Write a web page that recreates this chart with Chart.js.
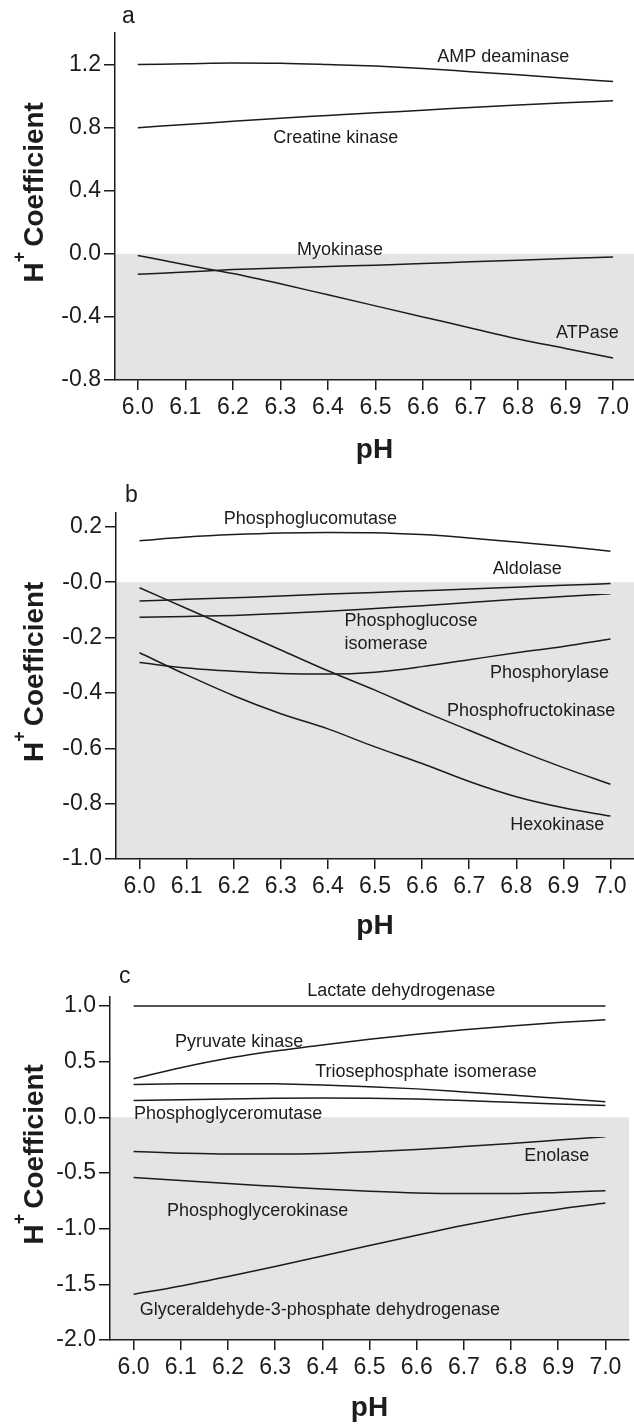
<!DOCTYPE html>
<html>
<head>
<meta charset="utf-8">
<script src="https://cdn.jsdelivr.net/npm/chart.js@4.4.1/dist/chart.umd.min.js"></script>
<style>
  html, body { margin: 0; padding: 0; background: #fff; }
  body { width: 634px; height: 1427px; position: relative; overflow: hidden; }
  canvas { position: absolute; left: 0; display: block; }
</style>
</head>
<body>
<canvas id="chartA" width="634" height="470" style="top:0"></canvas>
<canvas id="chartB" width="634" height="480" style="top:470px"></canvas>
<canvas id="chartC" width="634" height="477" style="top:950px"></canvas>
<script>
// pH grid shared by all three panels
const PH = [6.0, 6.1, 6.2, 6.3, 6.4, 6.5, 6.6, 6.7, 6.8, 6.9, 7.0];

// panel a
const AMP_DEAMINASE = [1.20, 1.205, 1.21, 1.208, 1.20, 1.19, 1.175, 1.155, 1.135, 1.113, 1.093];
const CREATINE_KINASE = [0.80, 0.82, 0.84, 0.86, 0.877, 0.894, 0.91, 0.928, 0.944, 0.958, 0.97];
const MYOKINASE = [-0.13, -0.115, -0.10, -0.09, -0.08, -0.072, -0.062, -0.05, -0.04, -0.03, -0.02];
const ATPASE = [-0.01, -0.07, -0.125, -0.19, -0.26, -0.33, -0.40, -0.47, -0.54, -0.60, -0.66];
const Y_TICKS_A = [-0.8, -0.4, 0, 0.4, 0.8, 1.2];
const Y_LABELS_A = ['-0.8', '-0.4', '0.0', '0.4', '0.8', '1.2'];

// panel b
const PHOSPHOGLUCOMUTASE = [0.15, 0.163, 0.172, 0.178, 0.18, 0.179, 0.172, 0.16, 0.145, 0.13, 0.112];
const ALDOLASE = [-0.068, -0.062, -0.056, -0.05, -0.043, -0.037, -0.031, -0.025, -0.018, -0.011, -0.005];
const PHOSPHOGLUCOSE_ISOMERASE = [-0.127, -0.124, -0.12, -0.113, -0.105, -0.095, -0.085, -0.073, -0.062, -0.052, -0.042];
const PHOSPHORYLASE = [-0.29, -0.31, -0.322, -0.33, -0.332, -0.325, -0.305, -0.28, -0.255, -0.232, -0.205];
const PHOSPHOFRUCTOKINASE = [-0.02, -0.095, -0.17, -0.245, -0.32, -0.39, -0.465, -0.535, -0.605, -0.67, -0.73];
const HEXOKINASE = [-0.255, -0.335, -0.41, -0.475, -0.53, -0.595, -0.655, -0.72, -0.775, -0.815, -0.845];
const Y_TICKS_B = [-1.0, -0.8, -0.6, -0.4, -0.2, 0, 0.2];
const Y_LABELS_B = ['-1.0', '-0.8', '-0.6', '-0.4', '-0.2', '-0.0', '0.2'];

// panel c
const LACTATE_DH = [1.0, 1.0, 1.0, 1.0, 1.0, 1.0, 1.0, 1.0, 1.0, 1.0, 1.0];
const PYRUVATE_KINASE = [0.345, 0.445, 0.53, 0.595, 0.65, 0.70, 0.745, 0.785, 0.82, 0.85, 0.875];
const TRIOSEPHOSPHATE_ISOMERASE = [0.295, 0.30, 0.302, 0.30, 0.29, 0.275, 0.255, 0.228, 0.20, 0.17, 0.14];
const PHOSPHOGLYCEROMUTASE = [0.15, 0.158, 0.165, 0.17, 0.172, 0.17, 0.163, 0.15, 0.135, 0.12, 0.105];
const ENOLASE = [-0.308, -0.322, -0.33, -0.33, -0.325, -0.31, -0.29, -0.262, -0.235, -0.205, -0.175];
const PHOSPHOGLYCEROKINASE = [-0.54, -0.567, -0.595, -0.62, -0.645, -0.665, -0.68, -0.685, -0.685, -0.675, -0.66];
const GAPDH = [-1.59, -1.515, -1.43, -1.34, -1.245, -1.152, -1.06, -0.97, -0.89, -0.825, -0.77];
const Y_TICKS_C = [-2.0, -1.5, -1.0, -0.5, 0, 0.5, 1.0];
const Y_LABELS_C = ['-2.0', '-1.5', '-1.0', '-0.5', '0.0', '0.5', '1.0'];

const FONT = "'Liberation Sans', Arial, sans-serif";
const INK = '#1c1c1c';
const SHADE = '#e3e4e6';

Chart.defaults.font.family = FONT;
Chart.defaults.color = INK;

// grey band below zero, panel letter, rotated y title and the curve names
const panelDecor = {
  id: 'panelDecor',
  beforeDraw(chart) {
    const { ctx, chartArea: a, scales: { y } } = chart;
    const zero = y.getPixelForValue(0);
    ctx.save();
    ctx.fillStyle = SHADE;
    ctx.fillRect(a.left, zero, a.right - a.left, a.bottom - zero);
    ctx.restore();
  },
  afterDraw(chart, args, opts) {
    const { ctx, chartArea: a, scales: { x, y } } = chart;
    ctx.save();
    ctx.fillStyle = INK;
    ctx.textAlign = 'left';

    ctx.textBaseline = 'alphabetic';
    ctx.font = `23px ${FONT}`;
    ctx.fillText(opts.letter, opts.letterX, opts.letterY);

    // H+ Coefficient, read bottom to top
    ctx.save();
    ctx.translate(43, (a.top + a.bottom) / 2 + 76);
    ctx.rotate(-Math.PI / 2);
    ctx.font = `bold 28px ${FONT}`;
    ctx.fillText('H', 0, 0);
    let off = ctx.measureText('H').width;
    ctx.font = `bold 18px ${FONT}`;
    ctx.fillText('+', off, -18);
    off += ctx.measureText('+').width + 5;
    ctx.font = `bold 28px ${FONT}`;
    ctx.fillText('Coefficient', off, 0);
    ctx.restore();

    ctx.textBaseline = 'middle';
    ctx.font = `18px ${FONT}`;
    opts.labels.forEach((l) => {
      ctx.fillText(l.text, x.getPixelForValue(l.ph), y.getPixelForValue(l.h));
    });
    ctx.restore();
  },
};

function line(data) {
  return {
    data: data.map((v, i) => ({ x: PH[i], y: v })),
    borderColor: INK,
    borderWidth: 1.5,
    pointRadius: 0,
    cubicInterpolationMode: 'monotone',
    fill: false,
  };
}

function panelOptions(p) {
  return {
    responsive: false,
    animation: false,
    events: [],
    layout: { padding: { top: p.top, right: p.right, bottom: 0, left: 0 } },
    plugins: {
      legend: { display: false },
      tooltip: { enabled: false },
      panelDecor: p.decor,
    },
    scales: {
      x: {
        type: 'linear',
        min: p.xMin,
        max: p.xMax,
        afterBuildTicks: (s) => { s.ticks = PH.map((v) => ({ value: v })); },
        afterFit: (s) => { s.height = p.xHeight; s.paddingLeft = 0; s.paddingRight = 0; },
        grid: { drawOnChartArea: false, tickLength: 10, color: INK, lineWidth: 1.5 },
        border: { color: INK, width: 1.5 },
        ticks: {
          autoSkip: false, maxRotation: 0, padding: 4, color: INK,
          font: { size: 23 },
          callback: (v) => v.toFixed(1),
        },
        title: {
          display: true, text: 'pH', color: INK,
          font: { size: 28, weight: 'bold' },
          padding: { top: 0, bottom: p.titlePad },
        },
      },
      y: {
        min: p.yMin,
        max: p.yMax,
        afterBuildTicks: (s) => { s.ticks = p.yTicks.map((v) => ({ value: v })); },
        afterFit: (s) => { s.width = p.yWidth; s.paddingTop = 0; s.paddingBottom = 0; },
        grid: { drawOnChartArea: false, tickLength: 11, color: INK, lineWidth: 1.5 },
        border: { color: INK, width: 1.5 },
        ticks: {
          autoSkip: false, padding: 3, color: INK,
          font: { size: 23 },
          callback: (v, i) => p.yLabels[i],
        },
      },
    },
  };
}

new Chart(document.getElementById('chartA'), {
  type: 'line',
  data: { datasets: [AMP_DEAMINASE, CREATINE_KINASE, MYOKINASE, ATPASE].map(line) },
  options: panelOptions({
    top: 33, right: 0, xHeight: 90, titlePad: 3, yWidth: 115,
    xMin: 5.952, xMax: 7.044, yMin: -0.8, yMax: 1.4,
    yTicks: Y_TICKS_A, yLabels: Y_LABELS_A,
    decor: {
      letter: 'a', letterX: 122, letterY: 23,
      labels: [
        { text: 'AMP deaminase', ph: 6.63, h: 1.249 },
        { text: 'Creatine kinase', ph: 6.285, h: 0.734 },
        { text: 'Myokinase', ph: 6.335, h: 0.025 },
        { text: 'ATPase', ph: 6.88, h: -0.50 },
      ],
    },
  }),
  plugins: [panelDecor],
});

new Chart(document.getElementById('chartB'), {
  type: 'line',
  data: {
    datasets: [PHOSPHOGLUCOMUTASE, ALDOLASE, PHOSPHOGLUCOSE_ISOMERASE, PHOSPHORYLASE,
      PHOSPHOFRUCTOKINASE, HEXOKINASE].map(line),
  },
  options: panelOptions({
    top: 43, right: 0, xHeight: 91, titlePad: 7, yWidth: 116,
    xMin: 5.95, xMax: 7.05, yMin: -1.0, yMax: 0.25,
    yTicks: Y_TICKS_B, yLabels: Y_LABELS_B,
    decor: {
      letter: 'b', letterX: 125, letterY: 32,
      labels: [
        { text: 'Phosphoglucomutase', ph: 6.179, h: 0.227 },
        { text: 'Aldolase', ph: 6.75, h: 0.046 },
        { text: 'Phosphoglucose', ph: 6.435, h: -0.139 },
        { text: 'isomerase', ph: 6.435, h: -0.225 },
        { text: 'Phosphorylase', ph: 6.744, h: -0.327 },
        { text: 'Phosphofructokinase', ph: 6.653, h: -0.464 },
        { text: 'Hexokinase', ph: 6.787, h: -0.876 },
      ],
    },
  }),
  plugins: [panelDecor],
});

new Chart(document.getElementById('chartC'), {
  type: 'line',
  data: {
    datasets: [LACTATE_DH, PYRUVATE_KINASE, TRIOSEPHOSPHATE_ISOMERASE, PHOSPHOGLYCEROMUTASE,
      ENOLASE, PHOSPHOGLYCEROKINASE, GAPDH].map(line),
  },
  options: panelOptions({
    top: 47, right: 5, xHeight: 87, titlePad: 2, yWidth: 110,
    xMin: 5.95, xMax: 7.05, yMin: -2.0, yMax: 1.08,
    yTicks: Y_TICKS_C, yLabels: Y_LABELS_C,
    decor: {
      letter: 'c', letterX: 119, letterY: 33,
      labels: [
        { text: 'Lactate dehydrogenase', ph: 6.368, h: 1.137 },
        { text: 'Pyruvate kinase', ph: 6.088, h: 0.68 },
        { text: 'Triosephosphate isomerase', ph: 6.385, h: 0.41 },
        { text: 'Phosphoglyceromutase', ph: 6.001, h: 0.033 },
        { text: 'Enolase', ph: 6.828, h: -0.344 },
        { text: 'Phosphoglycerokinase', ph: 6.071, h: -0.838 },
        { text: 'Glyceraldehyde-3-phosphate dehydrogenase', ph: 6.013, h: -1.735 },
      ],
    },
  }),
  plugins: [panelDecor],
});
</script>
</body>
</html>
